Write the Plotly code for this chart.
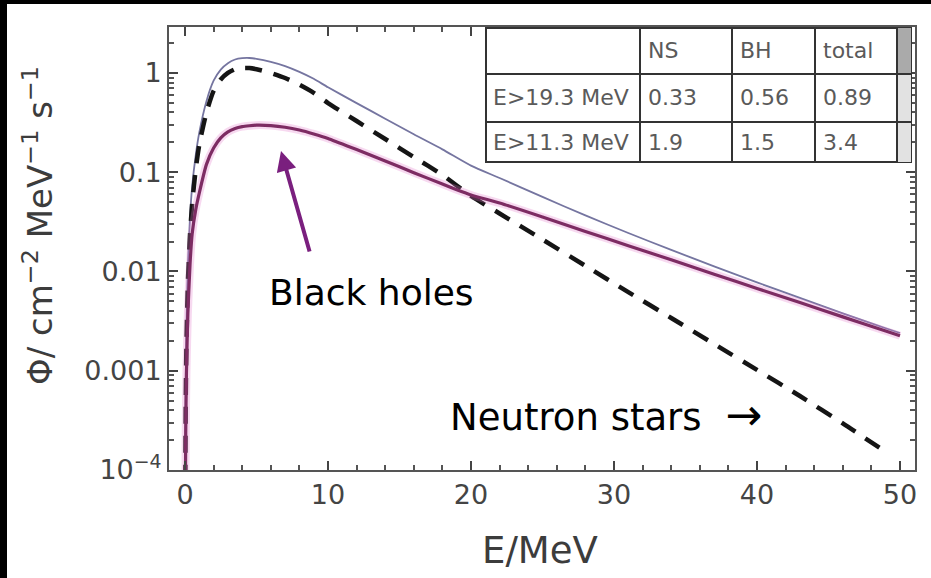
import plotly.graph_objects as go

# ---------------- data ----------------
energy = [0.02, 0.05, 0.1, 0.2, 0.35, 0.5, 0.75, 1, 1.5, 2, 2.5, 3, 3.5, 4, 4.5, 5,
          6, 7, 8, 9, 10, 12, 14, 16, 18, 20, 22, 25, 28, 31, 34, 37, 40, 43, 46, 49, 50]

ns_flux = [7.6e-5, 4.8e-4, 0.0019, 0.0077, 0.0235, 0.048, 0.107, 0.19, 0.40, 0.66, 0.86,
           1.0, 1.09, 1.12, 1.12, 1.09, 1.0, 0.89, 0.76, 0.63, 0.498, 0.328, 0.216, 0.142,
           0.094, 0.0576, 0.0384, 0.021, 0.0114, 0.0062, 0.0034, 0.00186, 0.00102,
           0.000556, 0.000295, 0.000152]          # ends at 49 MeV

bh_flux = [3.8e-5, 2.4e-4, 0.00096, 0.0038, 0.0118, 0.024, 0.042, 0.062, 0.12, 0.175,
           0.222, 0.255, 0.276, 0.288, 0.294, 0.298, 0.295, 0.284, 0.266, 0.243, 0.219,
           0.169, 0.130, 0.099, 0.076, 0.059, 0.049, 0.0354, 0.0253, 0.0182, 0.0131,
           0.0094, 0.00675, 0.00486, 0.00349, 0.00251, 0.00225]

total_flux = [1.14e-4, 7.2e-4, 0.00286, 0.0115, 0.0353, 0.072, 0.149, 0.252, 0.52, 0.835,
              1.082, 1.255, 1.366, 1.408, 1.414, 1.388, 1.295, 1.174, 1.026, 0.873, 0.717,
              0.497, 0.346, 0.241, 0.170, 0.1166, 0.0874, 0.0564, 0.0367, 0.0244, 0.0165,
              0.01126, 0.00777, 0.00542, 0.00379, 0.00268, 0.0024]

x_ticks = [0, 10, 20, 30, 40, 50]
y_ticks = [1e-4, 1e-3, 1e-2, 1e-1, 1]
y_tick_text = ["10<sup>−4</sup>", "0.001", "0.01", "0.1", "1"]

table_header = ["", "NS", "BH", "total"]
table_rows = [
    ["E>19.3 MeV", "0.33", "0.56", "0.89"],
    ["E>11.3 MeV", "1.9", "1.5", "3.4"],
]

# ---------------- layout geometry ----------------
W, H = 931, 578
L, R, T, B = 169, 16, 27, 108
PW, PH = W - L - R, H - T - B


def px(x):
    return (x - L) / PW


def py(y):
    return (H - B - y) / PH


fig = go.Figure()

# total (thin)
fig.add_trace(go.Scatter(x=energy, y=total_flux, mode="lines",
                         line=dict(color="#7575a0", width=1.8, shape="spline", smoothing=0.6),
                         showlegend=False, hoverinfo="skip"))
# neutron stars (dashed)
fig.add_trace(go.Scatter(x=energy[:len(ns_flux)], y=ns_flux, mode="lines",
                         line=dict(color="#151515", width=4.5, dash="17px,12px",
                                   shape="spline", smoothing=0.6),
                         showlegend=False, hoverinfo="skip"))
# black holes glow + line
fig.add_trace(go.Scatter(x=energy, y=bh_flux, mode="lines",
                         line=dict(color="rgba(225,120,200,0.28)", width=8, shape="spline", smoothing=0.6),
                         showlegend=False, hoverinfo="skip"))
fig.add_trace(go.Scatter(x=energy, y=bh_flux, mode="lines",
                         line=dict(color="#7d2c63", width=3.2, shape="spline", smoothing=0.6),
                         showlegend=False, hoverinfo="skip"))

shapes = []
# black frame at the left and top of the picture
shapes.append(dict(type="rect", xref="paper", yref="paper", x0=px(0), x1=px(7),
                   y0=py(578), y1=py(0), fillcolor="black", line=dict(width=0), layer="above"))
shapes.append(dict(type="rect", xref="paper", yref="paper", x0=px(0), x1=px(931),
                   y0=py(4), y1=py(0), fillcolor="black", line=dict(width=0), layer="above"))

# table
tl, tr, tt, tb = 486, 911, 28, 162
col_x = [640, 732, 815, 897]
row_y = [74, 122]
shapes.append(dict(type="rect", xref="paper", yref="paper", x0=px(tl), x1=px(tr),
                   y0=py(tb), y1=py(tt), fillcolor="white", line=dict(color="#333", width=2)))
shapes.append(dict(type="rect", xref="paper", yref="paper", x0=px(col_x[3]), x1=px(tr),
                   y0=py(row_y[0]), y1=py(tt), fillcolor="#aaaaaa", line=dict(width=0)))
shapes.append(dict(type="rect", xref="paper", yref="paper", x0=px(col_x[3]), x1=px(tr),
                   y0=py(tb), y1=py(row_y[0]), fillcolor="#e2e2e2", line=dict(width=0)))
for cx in col_x:
    shapes.append(dict(type="line", xref="paper", yref="paper", x0=px(cx), x1=px(cx),
                       y0=py(tb), y1=py(tt), line=dict(color="#333", width=2)))
for ry in row_y:
    shapes.append(dict(type="line", xref="paper", yref="paper", x0=px(tl), x1=px(tr),
                       y0=py(ry), y1=py(ry), line=dict(color="#333", width=2)))

annotations = []
text_x = [491, 646, 738, 821]
text_y = [51, 98, 142]
tfont = dict(family="DejaVu Sans", size=22, color="#5a5a5a")
for j, h in enumerate(table_header):
    if h:
        annotations.append(dict(x=px(text_x[j]), y=py(text_y[0]), xref="paper", yref="paper",
                                text=h, showarrow=False, xanchor="left", yanchor="middle", font=tfont))
for i, row in enumerate(table_rows):
    for j, cell in enumerate(row):
        annotations.append(dict(x=px(text_x[j]), y=py(text_y[i + 1]), xref="paper", yref="paper",
                                text=cell, showarrow=False, xanchor="left", yanchor="middle", font=tfont))

# axis titles
annotations.append(dict(x=px(38), y=py(226), xref="paper", yref="paper",
                        text="Φ/ cm<sup>−2</sup> MeV<sup>−1</sup> s<sup>−1</sup>",
                        textangle=-90, showarrow=False, xanchor="center", yanchor="middle",
                        font=dict(family="DejaVu Sans", size=34, color="#3c3c3c")))
annotations.append(dict(x=px(540), y=py(550), xref="paper", yref="paper", text="E/MeV",
                        showarrow=False, xanchor="center", yanchor="middle",
                        font=dict(family="DejaVu Sans", size=37, color="#3c3c3c")))

# labels
annotations.append(dict(x=px(371), y=py(292), xref="paper", yref="paper", text="Black holes",
                        showarrow=False, xanchor="center", yanchor="middle",
                        font=dict(family="DejaVu Sans", size=36, color="black")))
annotations.append(dict(x=px(606), y=py(414), xref="paper", yref="paper",
                        text="Neutron stars\u00a0\u00a0<span style='font-size:44px'>→</span>",
                        showarrow=False, xanchor="center", yanchor="middle",
                        font=dict(family="DejaVu Sans", size=37, color="black")))
# purple arrow pointing at the black-hole curve
annotations.append(dict(x=px(281), y=py(151), xref="paper", yref="paper", text="",
                        showarrow=True, ax=29, ay=102, arrowcolor="#7a1f7e", arrowwidth=4,
                        arrowhead=2, arrowsize=1.0, standoff=0, startstandoff=0))

minor_y = [m * 10 ** e for e in range(-4, 1) for m in range(2, 10)]

fig.update_layout(
    width=W, height=H,
    margin=dict(l=L, r=R, t=T, b=B),
    paper_bgcolor="white", plot_bgcolor="white",
    shapes=shapes, annotations=annotations,
    xaxis=dict(range=[-1.12, 51.05], tickvals=x_ticks, ticks="inside", ticklen=9,
               tickwidth=1.5, tickcolor="#444", showline=True, linecolor="#555", linewidth=2,
               mirror="allticks", showgrid=False, zeroline=False,
               minor=dict(dtick=2, ticks="inside", ticklen=5, tickcolor="#555", showgrid=False),
               tickfont=dict(family="DejaVu Sans", size=27, color="#444")),
    yaxis=dict(type="log", range=[-4, 0.463], tickvals=y_ticks, ticktext=y_tick_text,
               ticks="inside", ticklen=9, tickwidth=1.5, tickcolor="#444", showline=True,
               linecolor="#555", linewidth=2, mirror="allticks", showgrid=False, zeroline=False,
               minor=dict(tickvals=minor_y, ticks="inside", ticklen=5, tickcolor="#555", showgrid=False),
               tickfont=dict(family="DejaVu Sans", size=27, color="#444")),
)

fig.write_html("out.html")
